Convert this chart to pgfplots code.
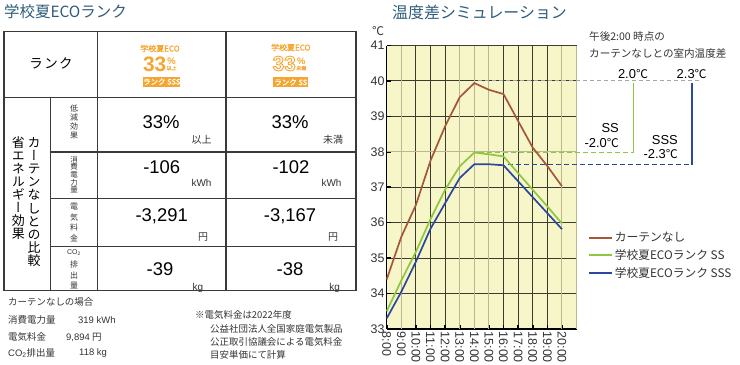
\documentclass[border=0pt]{standalone}
\usepackage{pgfplots}
\pgfplotsset{compat=1.18}
\usepackage{fontspec}
\setmainfont{Liberation Sans}
\newfontfamily\jp{Noto Sans CJK JP}
\newfontfamily\jpb[FakeBold=1.5]{Noto Sans CJK JP}
\newfontfamily\jpv[RawFeature=+vert]{Noto Sans CJK JP}
\definecolor{ttl}{HTML}{2D5C7A}
\definecolor{org}{HTML}{F5A632}
\definecolor{brn}{HTML}{A5573A}
\definecolor{grn}{HTML}{8DC63F}
\definecolor{blu}{HTML}{2A48A0}
\definecolor{bgy}{HTML}{F7F6C9}
\definecolor{gdk}{HTML}{3C3C30}
\definecolor{gtn}{HTML}{BEB690}
\definecolor{txt}{HTML}{333333}
\definecolor{tbl}{HTML}{3A3A3A}
\newcommand{\fs}[1]{\fontsize{#1}{#1}\selectfont}
\newcommand{\fsb}[2]{\fontsize{#1}{#2}\selectfont}

\pgfplotstableread{
t  none   ss     sss
8  34.40  33.50  33.30
9  35.60  34.37  34.05
10 36.50  35.18  34.90
11 37.75  36.10  35.83
12 38.72  36.93  36.55
13 39.54  37.59  37.26
14 39.94  37.98  37.65
15 39.75  37.93  37.65
16 39.63  37.87  37.62
17 38.87  37.40  37.17
18 38.12  36.93  36.72
19 37.60  36.46  36.27
20 37.03  35.98  35.82
}\temps

\begin{document}
\begin{tikzpicture}
\path[use as bounding box] (0bp,0bp) rectangle (740bp,-365bp);
\begin{scope}[x=1bp,y=-1bp,every node/.style={inner sep=0pt}]
% titles
\node[anchor=west,text=ttl,font=\jp\fs{15.5}] at (4,12) {学校夏ECOランク};
\node[anchor=west,text=ttl,font=\jp\fs{16}] at (392,12) {温度差シミュレーション};
% header
\node[font=\jp\fs{13.5},text=black] at (51,63.5) {ラ\hspace{1.5bp}ン\hspace{1.5bp}ク};
% badge SSS
\node[text=org,font=\jpb\fs{8}] at (160,48.5) {学校夏ECO};
\node[text=org,font=\bfseries\fs{21}] at (154.7,64) {33};
\node[text=org,font=\bfseries\fs{9.5},anchor=base] at (171.7,64.6) {\%};
\node[text=org,font=\jpb\fs{5},anchor=north] at (171.7,65.6) {以上};
\fill[org] (143.3,76.7) rectangle (180,86.7);
\node[text=white,font=\jpb\fs{7.5}] at (161.7,81.7) {ランク SSS};
% badge SS
\node[text=org,font=\jpb\fs{8}] at (290.8,47.5) {学校夏ECO};
\node[text=org,font=\bfseries\fs{21}] at (284.2,63.5) {\special{pdf:literal direct 1 Tr 0.9 w}33\special{pdf:literal direct 0 Tr}};
\node[text=org,font=\bfseries\fs{9.5},anchor=base] at (301.3,64.6) {\%};
\node[text=org,font=\jpb\fs{5},anchor=north] at (301.3,65.6) {未満};
\fill[org] (273.3,77.3) rectangle (308.3,87.3);
\node[text=white,font=\jpb\fs{7.5}] at (290.8,82.3) {ランク SS};
% vertical row titles
\node[font=\jpv\fsb{13}{13.1},align=center,text=black] at (34,202) {カ\\ー\\テ\\ン\\な\\し\\と\\の\\比\\較};
\node[font=\jpv\fsb{13}{13.1},align=center,text=black] at (18.3,188) {省\\エ\\ネ\\ル\\ギ\\ー\\効\\果};
% sub labels
\node[font=\jp\fsb{8}{9.3},align=center,text=txt] at (74,122) {低\\減\\効\\果};
\node[font=\jp\fsb{7.5}{7.7},align=center,text=txt] at (74,174.5) {消\\費\\電\\力\\量};
\node[font=\jp\fsb{8}{10.4},align=center,text=txt] at (74,222.5) {電\\気\\料\\金};
\node[font=\fs{7},text=txt] at (74,253) {CO\textsubscript{2}};
\node[font=\jp\fsb{8}{10.5},align=center,text=txt] at (74,275) {排\\出\\量};
% values
\node[font=\fs{18.5},text=black] at (161,121.7) {33\%};
\node[font=\fs{18.5},text=black] at (290,121.7) {33\%};
\node[font=\jp\fs{10},anchor=east,text=txt] at (211.7,140) {以上};
\node[font=\jp\fs{10},anchor=east,text=txt] at (343.3,140) {未満};
\node[font=\fs{18.5},text=black] at (161.7,166.7) {-106};
\node[font=\fs{18.5},text=black] at (291,166.7) {-102};
\node[font=\fs{10},anchor=base east,text=txt] at (211.7,186) {kWh};
\node[font=\fs{10},anchor=base east,text=txt] at (341.7,186) {kWh};
\node[font=\fs{18.5},text=black] at (161.7,216.7) {-3,291};
\node[font=\fs{18.5},text=black] at (290,216.7) {-3,167};
\node[font=\jp\fs{10},anchor=east,text=txt] at (208.3,237.5) {円};
\node[font=\jp\fs{10},anchor=east,text=txt] at (338.3,237.5) {円};
\node[font=\fs{18.5},text=black] at (160,269) {-39};
\node[font=\fs{18.5},text=black] at (290,269) {-38};
\node[font=\fs{10},anchor=base east,text=txt] at (203.3,290) {kg};
\node[font=\fs{10},anchor=base east,text=txt] at (340,290) {kg};
% table lines
\begin{scope}[draw=tbl,line width=1.4bp]
\draw (4,31.7) rectangle (356,290.5);
\draw (97.3,31.7) -- (97.3,290.5);
\draw (226,31.7) -- (226,290.5);
\draw (4,97.5) -- (356,97.5);
\draw (50.7,97.5) -- (50.7,290.5);
\draw (50.7,152) -- (356,152);
\draw (50.7,198.3) -- (356,198.3);
\draw (50.7,246.7) -- (356,246.7);
\end{scope}
% footer
\begin{scope}[every node/.append style={anchor=west,text=txt,font=\jp\fs{9.5}}]
\node at (8,302) {カーテンなしの場合};
\node at (8,320) {消費電力量};
\node at (78,320) {\fs{9.5}\rmfamily 319 kWh};
\node at (8,337) {電気料金};
\node at (66,337) {{\rmfamily 9,894} 円};
\node at (8,353) {{\rmfamily CO\textsubscript{2}}排出量};
\node at (79,353) {\rmfamily 118 kg};
\node at (195,315) {※電気料金は2022年度};
\node at (210,329) {公益社団法人全国家庭電気製品};
\node at (210,342) {公正取引協議会による電気料金};
\node at (210,355) {目安単価にて計算};
\end{scope}
% chart annotations
\node[font=\jp\fs{12},text=txt] at (378,31) {℃};
\node[anchor=west,font=\jp\fs{10.6},text=txt] at (589,36.7) {午後2:00 時点の};
\node[anchor=west,font=\jp\fs{10.6},text=txt] at (589,53.3) {カーテンなしとの室内温度差};
\node[font=\fs{13},text=black] at (633,74.3) {2.0{\jp\fs{12}℃}};
\node[font=\fs{13},text=black] at (691.7,74.3) {2.3{\jp\fs{12}℃}};
\node[anchor=east,align=right,font=\fsb{13}{15},text=black] at (619,136) {SS\\-2.0{\jp\fs{12}℃}};
\node[anchor=east,align=right,font=\fsb{13}{14},text=black] at (678,147) {SSS\\-2.3{\jp\fs{12}℃}};
\end{scope}

\begin{axis}[
  at={(386.7bp,-329bp)}, anchor=south west,
  scale only axis, width=189.8bp, height=283.5bp,
  xmin=8, xmax=21, ymin=33, ymax=41,
  axis x line*=bottom, axis y line*=left,
  axis line style={black,line width=1.4bp,-},
  axis background/.style={fill=bgy},
  xtick={8,...,20},
  xticklabels={8:00,9:00,10:00,11:00,12:00,13:00,14:00,15:00,16:00,17:00,18:00,19:00,20:00},
  ytick={33,...,41},
  tick align=inside,
  major tick length=4bp,
  every tick/.style={black,line width=1.6bp},
  xmajorgrids, ymajorgrids,
  major grid style={gdk,line width=1bp},
  x tick label style={rotate=-90,anchor=west,font=\fs{12.5},text=txt,inner sep=2.5bp},
  y tick label style={font=\fs{12.5},text=txt,inner sep=2bp},
  /pgf/number format/assume math mode=true,
  clip=false,
  legend style={at={(1.061,0.347)},anchor=north west,draw=none,fill=none,
    font=\jp\fsb{11.8}{13},text=txt,row sep=3.5bp,inner sep=0pt,
    nodes={inner sep=1.5bp}},
  legend cell align=left,
  legend image code/.code={\draw[#1,line width=2bp] (0bp,0bp) -- (23bp,0bp);},
]
\draw[gtn,line width=1bp] (axis cs:9,33) -- (axis cs:9,41);
\draw[gtn,line width=1bp] (axis cs:13,33) -- (axis cs:13,41);
\draw[gtn,line width=1bp] (axis cs:14,33) -- (axis cs:14,41);
\draw[gtn,line width=1bp] (axis cs:15,33) -- (axis cs:15,41);
\draw[gtn,line width=1bp] (axis cs:20,33) -- (axis cs:20,41);
\draw[gtn,line width=1.2bp] (axis cs:21,33) -- (axis cs:21,41);
\draw[gtn,line width=1bp] (axis cs:8,38) -- (axis cs:21,38);
% reference dashes
\draw[gray!70,line width=0.9bp,dash pattern=on 4bp off 3bp] (axis cs:14.27,40) -- (axis cs:29.55,40);
\draw[grn,line width=1bp,dash pattern=on 5bp off 3bp] (axis cs:14.3,37.98) -- (axis cs:24.89,37.98);
\draw[grn,line width=1.6bp] (axis cs:24.89,37.98) -- (axis cs:24.89,39.95);
\draw[blu,line width=1bp,dash pattern=on 5bp off 3bp] (axis cs:16.3,37.63) -- (axis cs:28.89,37.63);
\draw[blu,line width=1.6bp] (axis cs:28.89,37.63) -- (axis cs:28.89,39.95);
\addplot[brn,line width=1.7bp] table[x=t,y=none] {\temps};
\addlegendentry{カーテンなし}
\addplot[grn,line width=1.7bp] table[x=t,y=ss] {\temps};
\addlegendentry{学校夏ECOランク SS}
\addplot[blu,line width=1.7bp] table[x=t,y=sss] {\temps};
\addlegendentry{学校夏ECOランク SSS}
\end{axis}
\end{tikzpicture}
\end{document}
